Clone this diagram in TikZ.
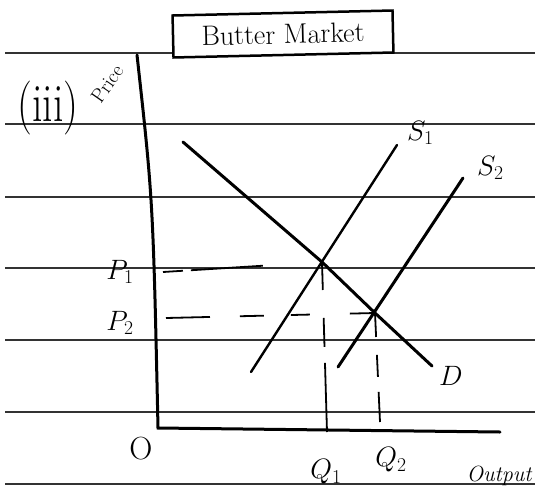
\RequirePackage{fix-cm}
\documentclass[tikz,border=0pt]{standalone}
\usepackage{tikz}
\usetikzlibrary{positioning}
\begin{document}
\begin{tikzpicture}[x=1pt, y=-1pt,
  rule/.style={draw=black!80, line width=1.8pt},
  crv/.style={draw=black, line width=3pt, line cap=round},
  guide/.style={draw=black, line width=1.8pt},
  lbl/.style={inner sep=0pt, font=\fontsize{28}{30}\selectfont}
]
  \useasboundingbox (0,0) rectangle (535,493);

  % ruled paper
  \foreach \y in {53,124,197,268,340,412,484}
    \draw[rule] (5,\y) -- (535,\y);

  \node[draw, line width=2.5pt, fill=white, rotate=1.3, minimum width=220pt, minimum height=42pt, font=\fontsize{28}{30}\selectfont] (title) at (283,34) {Butter Market};
  \node[lbl, font=\fontsize{40}{40}\selectfont] (part) at (48,108) {\scalebox{1.05}[1.35]{(iii)}};
  \node[lbl, font=\fontsize{20}{20}\selectfont, rotate=55] (price) at (107,84) {Price};

  % axes
  \coordinate (axtop) at (137,55);
  \coordinate (o) at (158,428);
  \coordinate (axend) at (500,432);
  \draw[crv] (axtop) .. controls (153,200) .. (o) -- (axend);

  % demand and supply
  \coordinate (e1) at (322,262);
  \coordinate (e2) at (375,313);
  \coordinate (dtop) at (183,142);
  \coordinate (dbot) at (432,366);
  \coordinate (s1bot) at (251,372);
  \coordinate (s1top) at (397,145);
  \coordinate (s2bot) at (338,367);
  \coordinate (s2top) at (463,178);
  \draw[crv] (dtop) -- (e1) -- (e2) -- (dbot);
  \draw[crv, line width=2.4pt] (s1bot) -- (s1top);
  \draw[crv] (s2bot) -- (s2top);

  % dashed guides
  \coordinate (p1start) at (163,272);
  \coordinate (p2start) at (166,318);
  \coordinate (q1end) at (327,432);
  \coordinate (q2end) at (380,422);
  \draw[guide, dash pattern=on 20pt off 8pt on 72pt off 80pt] (p1start) -- (e1);
  \draw[guide, dash pattern=on 44pt off 30pt on 24pt off 27pt on 19pt off 40pt on 30pt off 10pt] (p2start) -- (e2);
  \draw[guide, dash pattern=on 28pt off 28pt on 29pt off 16pt on 80pt off 10pt] (e1) -- (q1end);
  \draw[guide, dash pattern=on 24pt off 18pt on 22pt off 15pt on 40pt off 10pt] (e2) -- (q2end);

  % labels
  \node[lbl] (p1) at (120,272) {$P_1$};
  \node[lbl] (p2) at (120,323) {$P_2$};
  \node[lbl, font=\fontsize{32}{32}\selectfont] (orig) at (141,449) {O};
  \node[lbl] (q1) at (326,472) {$Q_1$};
  \node[lbl] (q2) at (391,460) {$Q_2$};
  \node[lbl, above right=0pt and 10pt of s1top] (s1) {$S_1$};
  \node[lbl, above right=-2pt and 14pt of s2top] (s2) {$S_2$};
  \node[lbl, below right=0pt and 7pt of dbot] (dlab) {$D$};
  \node[lbl, font=\fontsize{22}{22}\selectfont\itshape] (output) at (499,476) {Output};
\end{tikzpicture}
\end{document}
